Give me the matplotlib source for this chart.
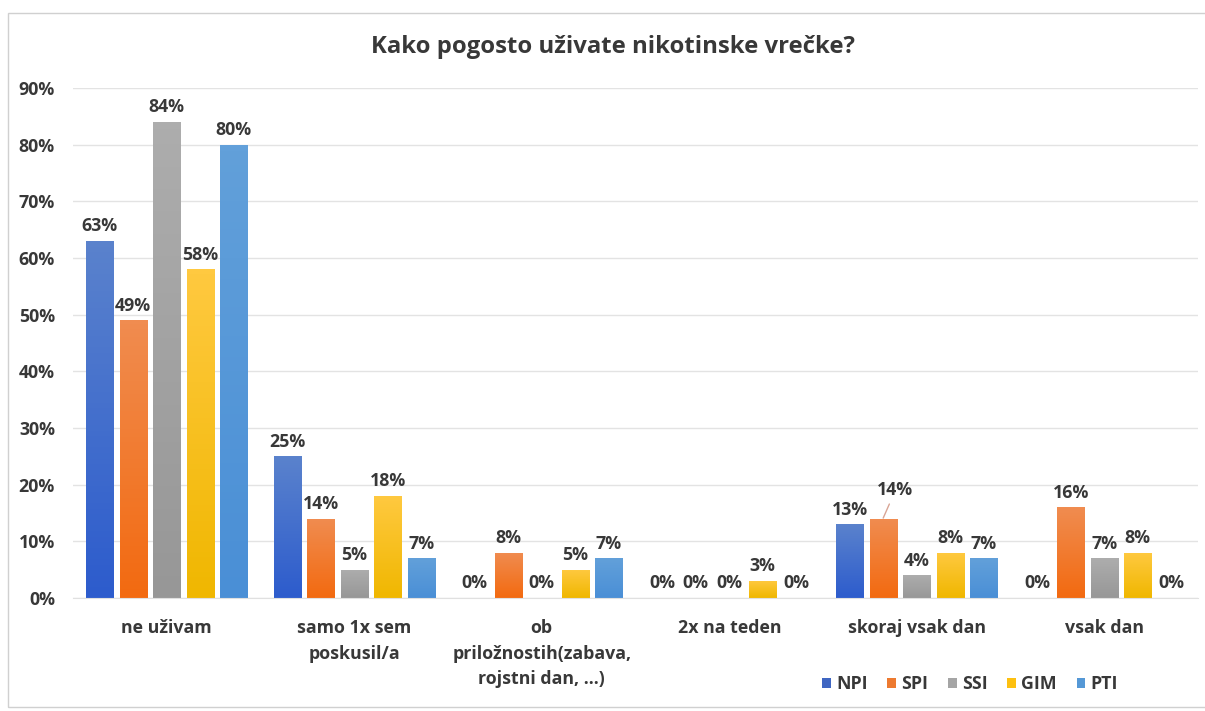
import numpy as np
import matplotlib.pyplot as plt
from matplotlib.colors import LinearSegmentedColormap
from matplotlib.patches import Patch, Rectangle

plt.rcParams['font.family'] = ['Open Sans', 'DejaVu Sans']
plt.rcParams['font.weight'] = 'bold'

categories = ['ne uživam', 'samo 1x sem\nposkusil/a', 'ob\npriložnostih(zabava,\nrojstni dan, ...)',
              '2x na teden', 'skoraj vsak dan', 'vsak dan']
series = ['NPI', 'SPI', 'SSI', 'GIM', 'PTI']
npi = [63, 25, 0, 0, 13, 0]
spi = [49, 14, 8, 0, 14, 16]
ssi = [84, 5, 0, 0, 4, 7]
gim = [58, 18, 5, 3, 8, 8]
pti = [80, 7, 7, 0, 7, 0]
values = [npi, spi, ssi, gim, pti]
y_ticks = [0, 10, 20, 30, 40, 50, 60, 70, 80, 90]

# top / bottom shades for the gradient fill of each series
shades = {
    'NPI': ('#5a82cc', '#2d5ccd'),
    'SPI': ('#f08c50', '#f36a10'),
    'SSI': ('#adadad', '#979797'),
    'GIM': ('#ffc940', '#f0b700'),
    'PTI': ('#62a0da', '#4a8fd6'),
}
legend_colors = {'NPI': '#3f66c2', 'SPI': '#ed7a30', 'SSI': '#a5a5a5', 'GIM': '#fdc010', 'PTI': '#5598d6'}

text_col = '#383838'
fs = 12.8

fig = plt.figure(figsize=(12.05, 7.11), dpi=100)
fig.patches.append(Rectangle((8 / 1205, 0.006), 1.2, 1 - 13 / 711 - 0.006, transform=fig.transFigure,
                             fill=False, edgecolor='#d0d0d0', linewidth=1))
ax = fig.add_axes([73 / 1205, 1 - 598 / 711, (1198 - 73) / 1205, (598 - 88) / 711])

x = np.arange(len(categories))
step = 0.179
width = 0.145
grad = np.linspace(0, 1, 64).reshape(-1, 1)

for i, name in enumerate(series):
    offs = (i - 2) * step
    bars = ax.bar(x + offs, values[i], width, color=legend_colors[name], zorder=2)
    cmap = LinearSegmentedColormap.from_list(name, [shades[name][1], shades[name][0]])
    for b, v in zip(bars, values[i]):
        if v == 0:
            continue
        b.set_facecolor('none')
        bx, by = b.get_x(), b.get_y()
        img = ax.imshow(grad, cmap=cmap, aspect='auto', origin='lower',
                        extent=[bx, bx + b.get_width(), by, by + b.get_height()], zorder=2)
        img.set_clip_path(b)
    for xi, v in zip(x, values[i]):
        if name == 'SPI' and xi == 4:
            # this label sits higher, joined to its bar by a leader line
            ax.annotate(f'{v}%', xy=(xi + offs, v + 0.1), xytext=(xi + offs + 0.065, v + 5.0),
                        ha='center', va='center', fontsize=fs, color=text_col, fontweight='bold',
                        arrowprops=dict(arrowstyle='-', color='#d9a595', lw=1, shrinkA=1.5, shrinkB=0))
            continue
        ax.annotate(f'{v}%', xy=(xi + offs, v), xytext=(0, 4), textcoords='offset points',
                    ha='center', va='bottom', fontsize=fs, color=text_col, fontweight='bold')

ax.set_xlim(-0.5, len(categories) - 0.5)
ax.set_ylim(0, 90)
ax.set_yticks(y_ticks)
ax.set_yticklabels([f'{t}%' for t in y_ticks])
ax.set_xticks(x)
ax.set_xticklabels(categories, linespacing=1.55)
ax.tick_params(axis='y', length=0, pad=13, labelsize=fs, labelcolor=text_col)
ax.tick_params(axis='x', length=0, pad=15, labelsize=fs, labelcolor=text_col)
ax.grid(axis='y', color='#e3e3e3', linewidth=1, zorder=0)
ax.set_axisbelow(True)
for s in ['top', 'right', 'left']:
    ax.spines[s].set_visible(False)
ax.spines['bottom'].set_color('#e0e0e0')

fig.text(613 / 1205, 1 - 47 / 711, 'Kako pogosto uživate nikotinske vrečke?', ha='center', va='center',
         fontsize=17.2, fontweight='bold', color=text_col)

handles = [Patch(facecolor=legend_colors[n], edgecolor='none') for n in series]
fig.legend(handles, series, loc='center', bbox_to_anchor=(970 / 1205, 1 - 684 / 711), ncol=5,
           frameon=False, handlelength=0.5, handleheight=0.5, handletextpad=0.3, columnspacing=1.1,
           prop={'size': fs, 'weight': 'bold'}, labelcolor=text_col)

fig.savefig('out.png', dpi=100)
